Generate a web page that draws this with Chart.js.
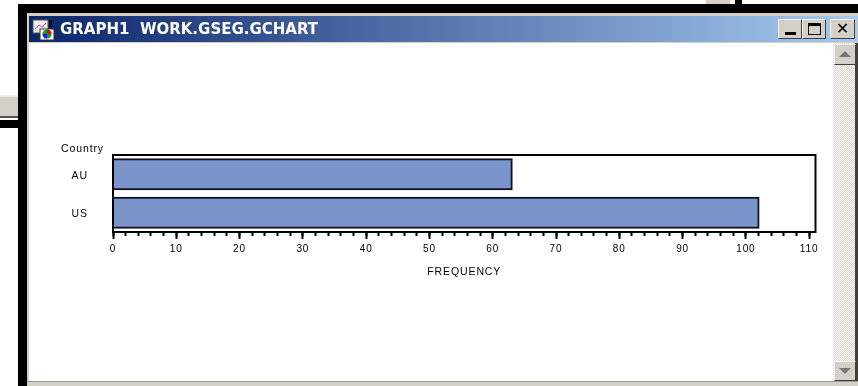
<!DOCTYPE html>
<html><head><meta charset="utf-8">
<style>
html,body{margin:0;padding:0;background:#fff;width:858px;height:386px;overflow:hidden;position:relative;font-family:"Liberation Sans",Arial,sans-serif}
div{position:absolute;box-sizing:border-box}
#chartWrap{left:0;top:0;width:858px;height:386px;filter:blur(.35px)}
.btn{background:#d4d0c8;border:1px solid;border-color:#f4f3ee #404040 #404040 #f4f3ee;color:#000}
</style>
</head><body>
<div style="left:706px;top:0;width:24px;height:4px;background:#d4d0c8"></div>
<div style="left:735px;top:0;width:7px;height:5px;background:#000"></div>
<div style="left:0;top:95px;width:18px;height:23px;background:#d4d0c8;border-top:2px solid #eeece6;border-bottom:2px solid #555"></div>
<div style="left:0;top:120px;width:20px;height:8px;background:#000"></div>
<div style="left:18px;top:4px;width:840px;height:382px;background:#000"></div>
<div style="left:27px;top:13px;width:831px;height:373px;background:#d4d0c8"></div>
<div style="left:29px;top:16px;width:829px;height:26px;background:linear-gradient(90deg,#0a246a,#a6caf0)"></div>
<div style="left:29px;top:43px;width:804px;height:338px;background:#fff"></div>
<div style="left:833px;top:43px;width:22px;height:338px;background-image:repeating-conic-gradient(#dedbd4 0 25%,#f7f6f3 0 50%);background-size:2px 2px"></div>
<div style="left:855px;top:43px;width:3px;height:338px;background:#404040"></div>
<div style="left:27px;top:381px;width:831px;height:5px;background:#d4d0c8;border-top:1px solid #999"></div>
<!-- window icon -->
<svg style="position:absolute;left:32px;top:19px" width="24" height="22" viewBox="0 0 24 22">
<rect x="1" y="1" width="15" height="13" fill="#eee" stroke="#555"/><path d="M3 10l4-4 3 2 4-4" stroke="#d040c0" fill="none"/>
<rect x="8" y="10" width="14" height="11" fill="#fff" stroke="#333"/><circle cx="15" cy="15" r="4.5" fill="#1a9a20"/><path d="M15 15V10.5A4.5 4.5 0 0 1 19.5 15Z" fill="#e01010"/><path d="M15 15H10.5A4.5 4.5 0 0 0 15 19.5Z" fill="#1020e0"/>
<rect x="17" y="1" width="3" height="8" fill="#111"/></svg>
<div id="titleText" style="left:60px;top:20px;color:#fff;font:bold 15px/18px 'DejaVu Sans',sans-serif;white-space:pre;filter:blur(.3px)">GRAPH1  WORK.GSEG.GCHART</div>
<div class="btn" style="left:778px;top:19px;width:24px;height:20px"><div style="left:6px;top:12px;width:11px;height:3px;background:#000"></div></div>
<div class="btn" style="left:802px;top:19px;width:24px;height:20px"><div style="left:5px;top:3px;width:13px;height:12px;border:1px solid #000;border-top:3px solid #000"></div></div>
<div class="btn" style="left:830px;top:19px;width:25px;height:20px;text-align:center;font:bold 16px/18px 'DejaVu Sans',sans-serif">✕</div>
<div class="btn" style="left:834px;top:44px;width:22px;height:21px"><div style="left:4px;top:6px;width:0;height:0;border:6px solid transparent;border-top:0;border-bottom:6px solid #777"></div></div>
<div class="btn" style="left:834px;top:361px;width:22px;height:20px"><div style="left:4px;top:6px;width:0;height:0;border:6px solid transparent;border-bottom:0;border-top:6px solid #777"></div></div>
<div id="chartWrap"><canvas id="c" width="858" height="386"></canvas></div>
<script src="https://cdn.jsdelivr.net/npm/chart.js@4/dist/chart.umd.min.js"></script>
<script>
const categories = ["AU", "US"];
const frequency = [63, 102];
const valueAxisTitle = "FREQUENCY";
const categoryAxisTitle = "Country";
const axisMax = 111;
const majorStep = 10;
const minorStep = 2;

const frame = {
  id: 'frame',
  beforeDraw(chart){ chart.ctx.letterSpacing = '0.9px'; },
  afterDraw(chart){
    const {ctx, chartArea:a} = chart;
    ctx.save();
    ctx.strokeStyle = '#000'; ctx.lineWidth = 2;
    ctx.strokeRect(a.left, a.top, a.right-a.left, a.bottom-a.top);
    ctx.fillStyle = '#000';
    ctx.font = '10.5px "Liberation Sans"';
    ctx.textAlign = 'right'; ctx.textBaseline = 'middle';
    ctx.fillText(categoryAxisTitle, a.left-9, a.top-6);
    ctx.restore();
  }
};

Chart.defaults.font.family = '"Liberation Sans",Arial,sans-serif';
Chart.defaults.font.size = 10;
Chart.defaults.color = '#000';

new Chart(document.getElementById('c'), {
  type: 'bar',
  data: { labels: categories, datasets: [{
    data: frequency, backgroundColor: '#7b94cb', borderColor: '#10131f', borderWidth: 2,
    inflateAmount: 1, barPercentage: 0.78, categoryPercentage: 1
  }]},
  plugins: [frame],
  options: {
    indexAxis: 'y', responsive: false, animation: false,
    layout: { padding: { left: 40, top: 155, right: 42.5, bottom: 108 } },
    plugins: { legend: { display: false }, tooltip: { enabled: false }, title: { display: false } },
    scales: {
      y: {
        type: 'category', offset: true,
        grid: { display: false },
        border: { display: false },
        ticks: { padding: 17, labelOffset: 1.5, color: '#000', font: { size: 10.5 } },
        afterFit(s){ s.width = 73; }
      },
      x: {
        type: 'linear', position: 'bottom', weight: 2, min: 0, max: axisMax,
        border: { display: false },
        grid: { drawOnChartArea: false, drawTicks: true, tickLength: 7, tickColor: '#000', tickWidth: 2 },
        ticks: { stepSize: majorStep, includeBounds: false, autoSkip: false, maxRotation: 0, padding: 4, color: '#000', font: { size: 10 } },
        title: { display: true, text: valueAxisTitle, color: '#000', padding: 0, font: { size: 10.5 } },
        afterFit(s){ s.height = 46; }
      },
      xMinor: {
        type: 'linear', position: 'bottom', weight: 1, min: 0, max: axisMax,
        border: { display: false },
        grid: { drawOnChartArea: false, drawTicks: true, tickLength: 4, tickColor: '#000', tickWidth: 2 },
        ticks: { stepSize: minorStep, includeBounds: false, autoSkip: false, maxRotation: 0, callback(){ return ''; } },
        afterFit(s){ s.height = 0; }
      }
    }
  }
});
</script>
</body></html>
